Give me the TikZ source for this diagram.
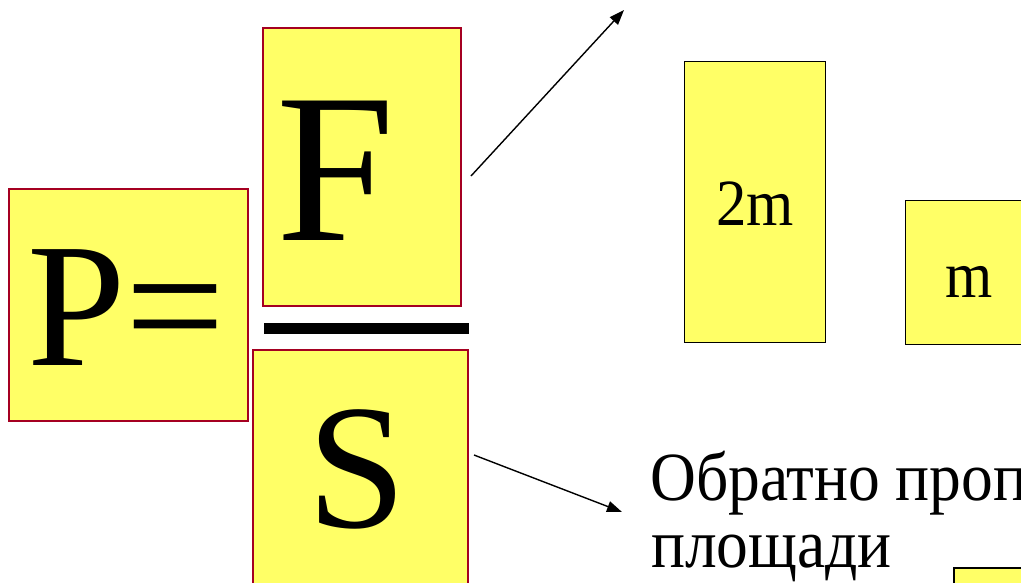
\documentclass[tikz,border=0pt]{standalone}
\usepackage{fontspec}
\setmainfont{Liberation Serif}
\newfontfamily\narrowfont[FakeStretch=0.92]{Liberation Serif}
\usetikzlibrary{arrows.meta}
\definecolor{boxyellow}{RGB}{255,255,102}
\definecolor{boxred}{RGB}{165,0,33}

\begin{document}
\begin{tikzpicture}[
    x=1pt, y=-1pt,
    >={Triangle[length=15pt,width=11pt]},
    redbox/.style={draw=boxred, fill=boxyellow, line width=1.6pt, inner sep=0pt, anchor=north west},
    blackbox/.style={draw=black, fill=boxyellow, line width=1.4pt, inner sep=0pt, anchor=north west},
    letter/.style={inner sep=0pt, anchor=base west},
    label/.style={inner sep=0pt, font=\narrowfont\fontsize{66}{66}\selectfont},
    caption/.style={inner sep=0pt, anchor=base west, font=\narrowfont\fontsize{69}{69}\selectfont},
    pointer/.style={->, line width=1.4pt},
]

%--- Frame (page size) ---
\useasboundingbox (0,0) rectangle (1021,582);
\clip (0,0) rectangle (1021,582);

%--- Formula boxes ---
\node[redbox, minimum width=239pt, minimum height=232pt] (pbox) at (8,188) {};
\node[redbox, minimum width=198pt, minimum height=278pt] (fbox) at (262,27) {};
\node[redbox, minimum width=215pt, minimum height=245pt] (sbox) at (252,349) {};

% fraction bar
\node[fill=black, inner sep=0pt, anchor=north west,
      minimum width=205pt, minimum height=11pt] (bar) at (264,323) {};

%--- Letters ---
\node[letter, font=\fontsize{177}{177}\selectfont] (pe) at (27,365) {P=};
\node[letter, font=\fontsize{213}{213}\selectfont] (ef) at (276,240) {F};
\node[letter, font=\fontsize{178}{178}\selectfont] (es) at (307,527) {S};

%--- Mass boxes ---
\node[blackbox, minimum width=141pt, minimum height=281pt] (twobox) at (684,61) {};
\node[blackbox, minimum width=130pt, minimum height=144pt] (onebox) at (905,200) {};
\node[blackbox, line width=2.4pt, minimum width=90pt, minimum height=30pt] (lowbox) at (953,567) {};
\node[label, anchor=base] (twom) at (755,225) {2m};
\node[label, anchor=base] (onem) at (969,297) {m};

%--- Caption ---
\node[caption] (inv) at (650,500) {Обратно проп};
\node[caption] (area) at (651,567) {площади};

%--- Pointers ---
\coordinate (fTail) at (471,176);
\coordinate (fHead) at (624,10);
\coordinate (sTail) at (474,455);
\coordinate (sHead) at (622,512);
\draw[pointer] (fTail) -- (fHead);
\draw[pointer] (sTail) -- (sHead);

\end{tikzpicture}
\end{document}
